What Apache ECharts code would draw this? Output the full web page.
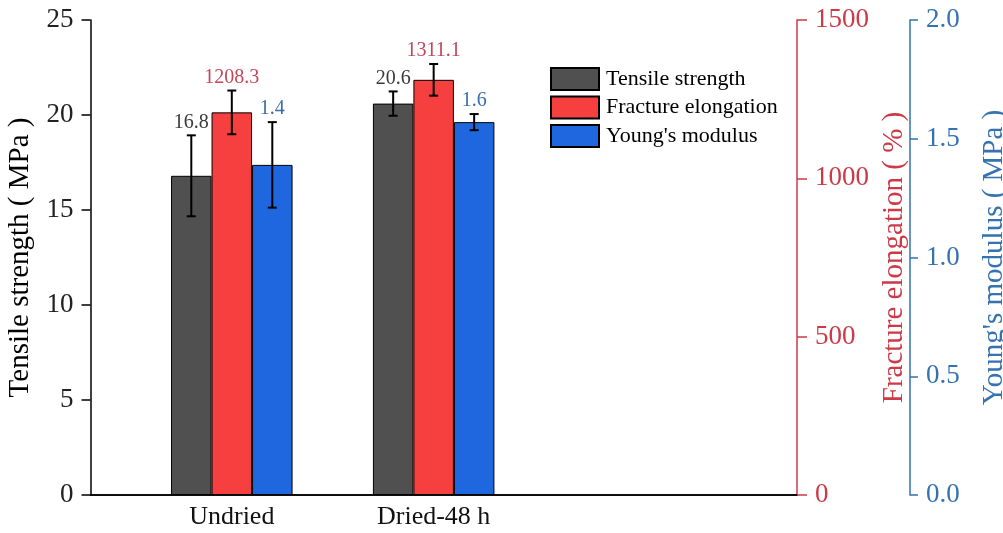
<!DOCTYPE html>
<html>
<head>
<meta charset="utf-8">
<script src="https://cdn.jsdelivr.net/npm/echarts@6/dist/echarts.min.js"></script>
<style>html,body{margin:0;padding:0;background:#fff}#c{width:1003px;height:533px}</style>
</head>
<body>
<div id="c"></div>
<script>
// ---- data ----
const categories = ['Undried', 'Dried-48 h'];
const catPos = [1, 2];
const seriesNames = ['Tensile strength', 'Fracture elongation', "Young's modulus"];
const tensile = [16.8, 20.6];
const tensileErr = [2.13, 0.64];
const elongation = [1208.3, 1311.1];
const elongationErr = [69, 50];
const modulus = [1.39, 1.57];
const modulusErr = [0.18, 0.034];
const tensileTicks = [0, 5, 10, 15, 20, 25];
const elongTicks = [0, 500, 1000, 1500];
const modulusTicks = [0, 0.5, 1.0, 1.5, 2.0];

// ---- style ----
const FONT = 'Liberation Serif';
const BAR_W = 40.5;
const colors = ['#505050', '#f5403f', '#1e67de'];
const labelColors = ['#3a3a3a', '#c4465a', '#3a6ea8'];
const RED_AX = '#cc3a48';
const BLUE_AX = '#3572b0';

const values = [tensile, elongation, modulus];
const errs = [tensileErr, elongationErr, modulusErr];
const decimals = [1, 1, 1];

const chart = echarts.init(document.getElementById('c'));

function errRenderer(idx) {
  return function (params, api) {
    const x = api.value(0), v = api.value(1), e = api.value(2);
    const top = api.coord([x, v + e]);
    const bot = api.coord([x, v - e]);
    const cx = top[0] + (idx - 1) * BAR_W;
    const cap = 4.5;
    const st = { stroke: '#000', lineWidth: 2 };
    return {
      type: 'group',
      children: [
        { type: 'line', shape: { x1: cx, y1: top[1], x2: cx, y2: bot[1] }, style: st },
        { type: 'line', shape: { x1: cx - cap, y1: top[1], x2: cx + cap, y2: top[1] }, style: st },
        { type: 'line', shape: { x1: cx - cap, y1: bot[1], x2: cx + cap, y2: bot[1] }, style: st },
        { type: 'text', x: cx, y: top[1] - 3,
          style: { text: v.toFixed(decimals[idx]), align: 'center', verticalAlign: 'bottom',
                   fontSize: 20, fontFamily: FONT, fill: labelColors[idx] } }
      ]
    };
  };
}

const series = [];
for (let i = 0; i < 3; i++) {
  series.push({
    name: seriesNames[i], type: 'bar', xAxisIndex: 0, yAxisIndex: i,
    barWidth: BAR_W, barGap: '0%',
    itemStyle: { color: colors[i], borderColor: '#000', borderWidth: 1 },
    data: catPos.map((x, k) => [x, values[i][k]])
  });
}
for (let i = 0; i < 3; i++) {
  series.push({
    type: 'custom', xAxisIndex: 0, yAxisIndex: i, z: 5,
    renderItem: errRenderer(i),
    encode: { x: 0, y: 1 },
    data: catPos.map((x, k) => [x, values[i][k], errs[i][k]])
  });
}

const axisName = (c) => ({ fontSize: 29, fontFamily: FONT, color: c });
const tickLabel = (c) => ({ fontSize: 27, fontFamily: FONT, color: c });

chart.setOption({
  animation: false,
  grid: { left: 90.5, right: 206, top: 20, bottom: 38, containLabel: false, outerBoundsMode: 'none' },
  legend: {
    data: seriesNames, orient: 'vertical', left: 545, top: 62,
    itemWidth: 48, itemHeight: 22, itemGap: 4.5, icon: 'rect',
    textStyle: { fontSize: 22, fontFamily: FONT, color: '#000', lineHeight: 22, padding: [0, 0, 0, 2] }
  },
  xAxis: [
    {
      type: 'value', position: 'bottom', min: 0.3, max: 3.8, interval: 0.1,
      axisLine: { lineStyle: { color: '#000', width: 1.5 } },
      axisTick: { show: false }, splitLine: { show: false },
      axisLabel: Object.assign(tickLabel('#111'), {
        fontSize: 26, margin: 9,
        formatter: function (v) {
          for (let k = 0; k < catPos.length; k++) if (Math.abs(v - catPos[k]) < 1e-6) return categories[k];
          return '';
        }
      })
    },
    {
      type: 'value', position: 'top', min: 0.3, max: 3.8, interval: 0.1,
      axisLine: { show: true, lineStyle: { color: '#000', width: 1.5 } },
      axisTick: { show: false }, axisLabel: { show: false }, splitLine: { show: false }
    }
  ],
  yAxis: [
    {
      type: 'value', position: 'left', min: tensileTicks[0], max: tensileTicks[tensileTicks.length - 1], interval: 5,
      name: 'Tensile strength ( MPa )', nameLocation: 'middle', nameGap: 56, nameRotate: 90,
      nameTextStyle: axisName('#000'),
      axisLine: { show: true, lineStyle: { color: '#000', width: 1.5 } },
      axisTick: { show: true, length: 9, lineStyle: { color: '#000', width: 1.5 } },
      axisLabel: Object.assign(tickLabel('#222'), { margin: 17, formatter: (v) => String(v) }),
      splitLine: { show: false }
    },
    {
      type: 'value', position: 'right', min: elongTicks[0], max: elongTicks[elongTicks.length - 1], interval: 500,
      name: 'Fracture elongation ( % )', nameLocation: 'middle', nameGap: 78, nameRotate: 90,
      nameTextStyle: axisName(RED_AX),
      axisLine: { show: true, lineStyle: { color: RED_AX, width: 1.5 } },
      axisTick: { show: true, length: 10, lineStyle: { color: RED_AX, width: 1.5 } },
      axisLabel: Object.assign(tickLabel(RED_AX), { margin: 18, formatter: (v) => String(v) }),
      splitLine: { show: false }
    },
    {
      type: 'value', position: 'right', offset: 113, min: modulusTicks[0], max: modulusTicks[modulusTicks.length - 1], interval: 0.5,
      name: "Young's modulus ( MPa )", nameLocation: 'middle', nameGap: 70, nameRotate: 90,
      nameTextStyle: axisName(BLUE_AX),
      axisLine: { show: true, lineStyle: { color: BLUE_AX, width: 1.5 } },
      axisTick: { show: true, length: 8, lineStyle: { color: BLUE_AX, width: 1.5 } },
      axisLabel: Object.assign(tickLabel(BLUE_AX), { margin: 16, formatter: (v) => v.toFixed(1) }),
      splitLine: { show: false }
    }
  ],
  series: series
});
</script>
</body>
</html>
